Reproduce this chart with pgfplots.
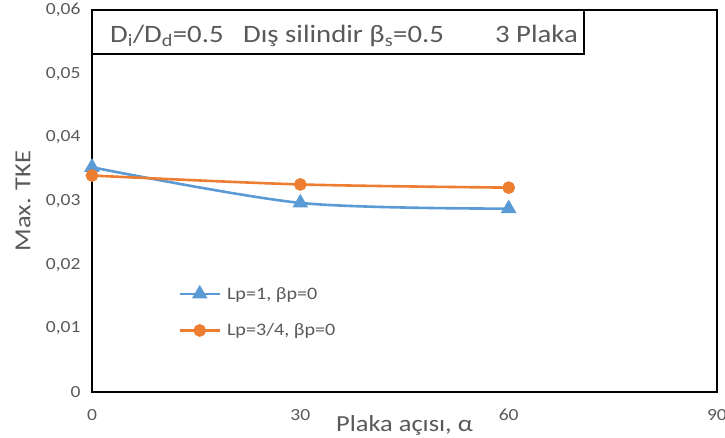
\documentclass[border=0pt]{standalone}
\usepackage{pgfplots}
\pgfplotsset{compat=1.18}
\usepackage{fontspec}
\setmainfont{Carlito}[FakeStretch=1.15]
\definecolor{txt}{HTML}{595959}
\definecolor{sblue}{HTML}{5B9BD5}
\definecolor{sorange}{HTML}{ED7D31}
\newcommand\tl[1]{\mbox{\fontsize{17bp}{20bp}\selectfont\color{txt}#1}}
\begin{document}
\begin{tikzpicture}
\begin{axis}[
  at={(0,0)}, anchor=south west,
  scale only axis, width=625bp, height=382bp,
  xmin=0, xmax=90, ymin=0, ymax=0.06,
  xtick={0,30,60,90},
  xticklabels={\tl{0},\tl{30},\tl{60},\tl{90}},
  ytick={0,0.01,0.02,0.03,0.04,0.05,0.06},
  yticklabels={\tl{0},\tl{0,01},\tl{0,02},\tl{0,03},\tl{0,04},\tl{0,05},\tl{0,06}},
  major tick length=0pt,
  axis line style={draw=none},
  xticklabel style={inner ysep=0pt, yshift=-17bp},
  yticklabel style={inner ysep=0pt, xshift=-8bp},
  xlabel={Plaka açısı, α},
  ylabel={Max. TKE},
  label style={font=\fontsize{23bp}{26bp}\selectfont, text=txt},
  xlabel style={at={(axis description cs:0.5,0)}, anchor=north, yshift=-20bp},
  ylabel style={at={(axis description cs:0,0.5)}, anchor=south, yshift=58bp},
  legend style={at={(0.138,0.28)}, anchor=north west, draw=none, fill=none,
    font=\fontsize{17.5bp}{20bp}\selectfont, text=txt, row sep=19bp,
    inner sep=0pt, cells={anchor=west}},
  legend image code/.code={\draw[mark repeat=2,mark phase=2,#1] plot coordinates {(0bp,0bp) (20bp,0bp) (40bp,0bp)}; \path (44bp,0bp);},
  clip=false,
]
\addplot[color=sblue, line width=2.6bp, smooth, mark=triangle*, mark size=6.5bp, mark options={solid}]
  coordinates {(0,0.0353) (30,0.0297) (60,0.0288)};
\addlegendentry{Lp=1, βp=0}
\addplot[color=sorange, line width=2.6bp, smooth, mark=*, mark size=5bp]
  coordinates {(0,0.0340) (30,0.0326) (60,0.0321)};
\addlegendentry{Lp=3/4, βp=0}
\draw[line width=2.8bp, black] (rel axis cs:0,0) rectangle (rel axis cs:1,1);
\draw[line width=1.5bp, black, fill=white] (rel axis cs:0,1) rectangle ([xshift=492bp, yshift=-44bp]rel axis cs:0,1);
\node[anchor=base west, text=txt, font=\fontsize{25bp}{28bp}\selectfont, inner sep=0pt]
  at ([xshift=18bp, yshift=-33bp]rel axis cs:0,1) {D\textsubscript{i}/D\textsubscript{d}=0.5};
\node[anchor=base west, text=txt, font=\fontsize{25bp}{28bp}\selectfont, inner sep=0pt]
  at ([xshift=151bp, yshift=-33bp]rel axis cs:0,1) {Dış silindir β\textsubscript{s}=0.5};
\node[anchor=base east, text=txt, font=\fontsize{25bp}{28bp}\selectfont, inner sep=0pt]
  at ([xshift=486bp, yshift=-33bp]rel axis cs:0,1) {3 Plaka};
\end{axis}
\pgfresetboundingbox
\useasboundingbox (-92bp,-46bp) rectangle (633bp,392bp);
\end{tikzpicture}
\end{document}
